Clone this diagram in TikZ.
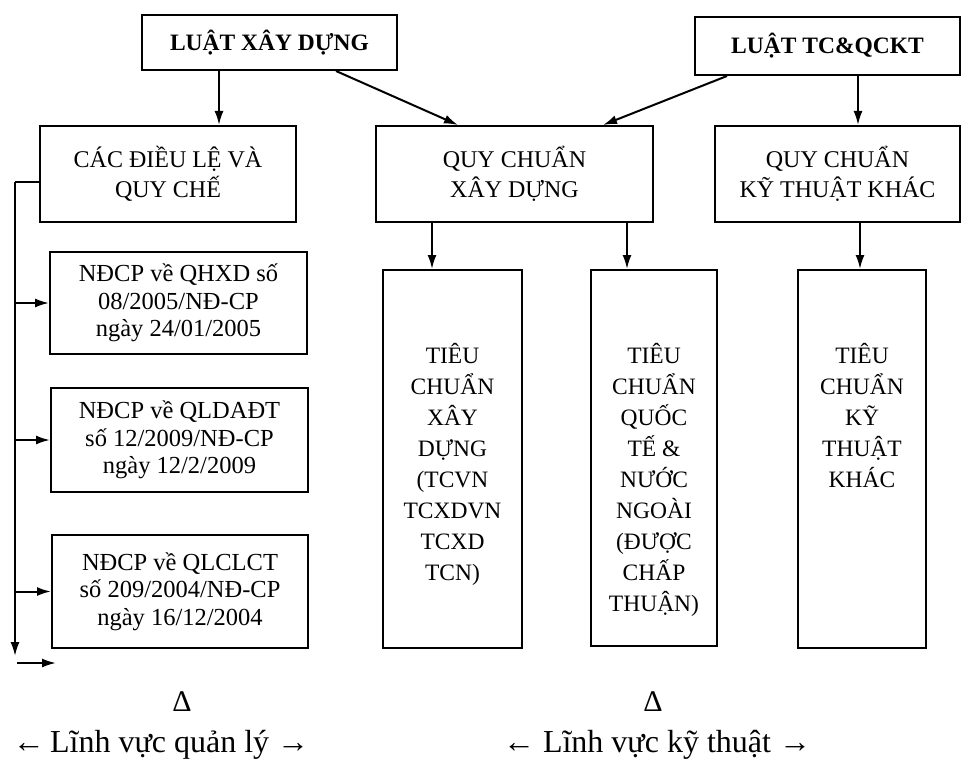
\documentclass[tikz,border=0pt]{standalone}
\usepackage{fontspec}
\setmainfont{Liberation Serif}
\usetikzlibrary{arrows.meta}
\begin{document}
\begin{tikzpicture}[x=1pt,y=-1pt,
  box/.style={draw, line width=2pt, inner sep=0pt, align=center, font=\fontsize{24}{30}\selectfont},
  law/.style={box, font=\fontsize{23.5}{29}\selectfont\bfseries},
  ndbox/.style={box, font=\fontsize{24.5}{27.5}\selectfont},
  tallbox/.style={draw, line width=2pt, inner sep=0pt},
  talltxt/.style={anchor=north, align=center, inner sep=0pt, font=\fontsize{23.5}{31}\selectfont},
  arr/.style={line width=2pt, -{Latex[length=14pt,width=9pt]}},
  ln/.style={line width=2pt},
  plain/.style={inner sep=0pt}]
\useasboundingbox (0,0) rectangle (963,762);

% top level
\node[law, minimum width=255pt, minimum height=55pt] (lxd) at (269.5,42.5) {LUẬT XÂY DỰNG};
\node[law, minimum width=265pt, minimum height=58pt] (ltc) at (827.5,46) {LUẬT TC\&QCKT};

% second level
\node[box, minimum width=256pt, minimum height=96pt] (cdl) at (168,174) {CÁC ĐIỀU LỆ VÀ\\QUY CHẾ};
\node[box, minimum width=277pt, minimum height=96pt] (qcxd) at (514.5,174) {QUY CHUẨN\\XÂY DỰNG};
\node[box, minimum width=245pt, minimum height=96pt] (qckt) at (837.5,174) {QUY CHUẨN\\KỸ THUẬT KHÁC};

% decrees
\node[ndbox, minimum width=257pt, minimum height=102pt] (nd1) at (178.5,303) {NĐCP về QHXD số\\08/2005/NĐ-CP\\ngày 24/01/2005};
\node[ndbox, minimum width=257pt, minimum height=104pt] (nd2) at (179.5,440) {NĐCP về QLDAĐT\\số 12/2009/NĐ-CP\\ngày 12/2/2009};
\node[ndbox, minimum width=256pt, minimum height=113pt] (nd3) at (180,591.5) {NĐCP về QLCLCT\\số 209/2004/NĐ-CP\\ngày 16/12/2004};

% tall standard boxes
\node[tallbox, minimum width=139pt, minimum height=378pt] (tcxd) at (452.5,459) {};
\node[tallbox, minimum width=126pt, minimum height=376pt] (tcqt) at (654,458) {};
\node[tallbox, minimum width=128pt, minimum height=378pt] (tckt) at (862,459) {};
\node[talltxt] (tcxdt) at (452.5,343) {TIÊU\\CHUẨN\\XÂY\\DỰNG\\(TCVN\\TCXDVN\\TCXD\\TCN)};
\node[talltxt] (tcqtt) at (654,343) {TIÊU\\CHUẨN\\QUỐC\\TẾ \&\\NƯỚC\\NGOÀI\\(ĐƯỢC\\CHẤP\\THUẬN)};
\node[talltxt] (tcktt) at (862,343) {TIÊU\\CHUẨN\\KỸ\\THUẬT\\KHÁC};

% connectors from laws
\draw[arr] (lxd.south -| 219,0) -- (cdl.north -| 219,0);
\draw[arr] (lxd.south -| 336,0) -- (qcxd.north -| 458,0);
\draw[arr] (ltc.south -| 727,0) -- (qcxd.north -| 603,0);
\draw[arr] (ltc.south -| 858,0) -- (qckt.north -| 858,0);

% connectors to standards
\draw[arr] (qcxd.south -| 432,0) -- (tcxd.north -| 432,0);
\draw[arr] (qcxd.south -| 627,0) -- (tcqt.north -| 627,0);
\draw[arr] (qckt.south -| 860,0) -- (tckt.north -| 860,0);

% left bus
\coordinate (busTop) at (15,182);
\coordinate (busEnd) at (15,656);
\draw[ln] (cdl.west |- busTop) -- (busTop);
\draw[arr] (busTop) -- (busEnd);
\draw[arr] (nd1.west -| busTop) -- (nd1.west);
\draw[arr] (nd2.west -| busTop) -- (nd2.west);
\draw[arr] (nd3.west -| busTop) -- (nd3.west);
\coordinate (sa) at (17,663);
\coordinate (sb) at (56,663);
\draw[arr] (sa) -- (sb);

% bottom labels
\node[plain, font=\fontsize{30}{34}\selectfont] (d1) at (182,702) {Δ};
\node[plain, font=\fontsize{30}{34}\selectfont] (d2) at (653,702) {Δ};
\node[plain, font=\fontsize{32}{36}\selectfont] (f1) at (161,745) {←\,Lĩnh vực quản lý →};
\node[plain, font=\fontsize{32}{36}\selectfont] (f2) at (657,745) {← Lĩnh vực kỹ thuật →};
\end{tikzpicture}
\end{document}
